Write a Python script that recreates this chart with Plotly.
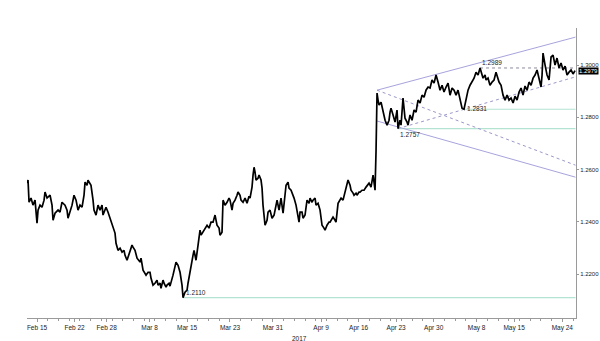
import pandas as pd
import plotly.graph_objects as go

START = pd.Timestamp("2017-02-15")

# time as days after 15 Feb 2017, price GBP/USD
day_offset = [-1.87, -1.68, -1.49, -1.12, -0.75, -0.37, 0.0, 0.19, 0.56, 0.93, 1.31, 1.49, 1.87, 2.43, 2.80, 2.99,
              3.36, 3.92, 4.29, 4.66, 5.22, 5.60, 5.78, 6.16, 6.53, 6.90, 7.28, 7.65, 8.02, 8.40, 8.77, 8.96,
              9.33, 9.51, 9.89, 10.07, 10.45, 10.63, 11.01, 11.38, 11.75, 12.13, 12.31, 12.87, 13.25, 13.62,
              13.99, 14.37, 14.55, 14.74, 15.11, 15.49, 15.86, 16.23, 16.42, 16.79, 17.35, 17.72, 17.91, 18.28,
              18.66, 19.22, 19.40, 19.78, 20.34, 20.71, 21.08, 21.27, 21.64, 22.01, 22.39, 22.57, 22.95, 23.13,
              23.51, 23.69, 24.07, 24.25, 24.63, 24.81, 25.37, 25.75, 25.93, 26.31, 26.68, 27.05, 27.24, 27.61,
              27.99, 28.17, 28.54, 28.92, 29.10, 29.29, 29.66, 30.04, 30.41, 30.60, 30.97, 31.34, 31.72, 32.09,
              32.46, 32.84, 33.21, 33.58, 33.96, 34.14, 34.51, 34.70, 35.07, 35.45, 35.82, 36.01, 36.38, 36.57,
              36.94, 37.31, 37.50, 37.87, 38.06, 38.43, 38.81, 39.18, 39.55, 39.74, 40.11, 40.30, 40.49, 40.67,
              40.86, 41.23, 41.42, 41.79, 41.98, 42.16, 42.35, 42.54, 42.91, 43.10, 43.47, 43.84, 44.22, 44.59,
              44.78, 45.15, 45.52, 45.90, 46.27, 46.46, 46.83, 47.01, 47.39, 47.76, 47.95, 48.32, 48.51, 48.88,
              49.07, 49.44, 49.63, 50.00, 50.37, 50.75, 50.93, 51.31, 51.49, 51.87, 52.05, 52.43, 52.80, 53.17,
              53.54, 53.73, 54.10, 54.48, 54.66, 55.04, 55.22, 55.60, 55.78, 56.16, 56.53, 56.72, 57.09, 57.28,
              57.65, 57.84, 58.02, 58.40, 58.58, 58.96, 59.14, 59.51, 59.70, 60.07, 60.26, 60.63, 61.01, 61.38,
              61.57, 61.94, 62.31, 62.69, 62.87, 63.06, 63.25, 63.43, 63.62, 63.81, 64.18, 64.55, 64.93, 65.30,
              65.67, 65.86, 66.04, 66.42, 66.79, 67.16, 67.35, 67.72, 67.91, 68.28, 68.47, 68.65, 69.03, 69.21,
              69.59, 69.96, 70.34, 70.71, 71.08, 71.46, 71.83, 72.20, 72.57, 72.95, 73.32, 73.69, 74.07, 74.44,
              74.81, 75.19, 75.56, 75.93, 76.31, 76.68, 77.05, 77.43, 77.80, 78.17, 78.54, 78.92, 79.29, 79.66,
              80.04, 80.41, 80.78, 81.16, 81.53, 81.90, 82.28, 82.65, 82.84, 83.21, 83.58, 83.77, 84.14, 84.51,
              84.89, 85.26, 85.63, 86.01, 86.19, 86.57, 86.94, 87.31, 87.69, 88.06, 88.43, 88.81, 89.18, 89.55,
              89.93, 90.30, 90.67, 91.04, 91.42, 91.79, 92.16, 92.54, 92.91, 93.28, 93.66, 94.03, 94.22, 94.40,
              94.78, 95.15, 95.52, 95.71, 95.90, 96.27, 96.64, 97.01, 97.39, 97.76, 98.13, 98.51, 98.88, 99.25,
              99.63, 100.00, 100.37]

price = [1.2548, 1.2560, 1.2475, 1.2491, 1.2464, 1.2483, 1.2395, 1.2445, 1.2464, 1.2456, 1.2483, 1.2514, 1.2491,
         1.2502, 1.2464, 1.2406, 1.2433, 1.2445, 1.2437, 1.2475, 1.2464, 1.2445, 1.2414, 1.2437, 1.2464, 1.2502,
         1.2483, 1.2445, 1.2464, 1.2456, 1.2502, 1.2552, 1.2540, 1.2560, 1.2548, 1.2540, 1.2483, 1.2445, 1.2426,
         1.2464, 1.2445, 1.2464, 1.2426, 1.2456, 1.2437, 1.2414, 1.2395, 1.2368, 1.2357, 1.2318, 1.2291, 1.2299,
         1.2284, 1.2291, 1.2272, 1.2253, 1.2291, 1.2311, 1.2303, 1.2291, 1.2261, 1.2246, 1.2261, 1.2215, 1.2196,
         1.2207, 1.2207, 1.2184, 1.2158, 1.2165, 1.2177, 1.2158, 1.2165, 1.2146, 1.2177, 1.2165, 1.2150, 1.2158,
         1.2165, 1.2154, 1.2196, 1.2234, 1.2246, 1.2234, 1.2207, 1.2158, 1.2110, 1.2131, 1.2139, 1.2165, 1.2215,
         1.2261, 1.2272, 1.2291, 1.2253, 1.2311, 1.2368, 1.2349, 1.2360, 1.2376, 1.2387, 1.2376, 1.2399, 1.2399,
         1.2426, 1.2387, 1.2376, 1.2349, 1.2360, 1.2483, 1.2464, 1.2475, 1.2491, 1.2483, 1.2445, 1.2471, 1.2483,
         1.2502, 1.2514, 1.2502, 1.2483, 1.2475, 1.2491, 1.2471, 1.2498, 1.2491, 1.2533, 1.2579, 1.2609, 1.2590,
         1.2560, 1.2567, 1.2579, 1.2560, 1.2529, 1.2464, 1.2414, 1.2387, 1.2406, 1.2437, 1.2445, 1.2414, 1.2426,
         1.2464, 1.2483, 1.2445, 1.2491, 1.2433, 1.2502, 1.2540, 1.2552, 1.2529, 1.2521, 1.2502, 1.2491, 1.2464,
         1.2445, 1.2399, 1.2437, 1.2437, 1.2414, 1.2426, 1.2483, 1.2471, 1.2491, 1.2475, 1.2483, 1.2491, 1.2464,
         1.2471, 1.2445, 1.2387, 1.2376, 1.2368, 1.2387, 1.2399, 1.2399, 1.2414, 1.2418, 1.2406, 1.2399, 1.2471,
         1.2483, 1.2491, 1.2483, 1.2498, 1.2521, 1.2540, 1.2560, 1.2540, 1.2521, 1.2510, 1.2502, 1.2510, 1.2502,
         1.2514, 1.2514, 1.2521, 1.2521, 1.2533, 1.2540, 1.2548, 1.2533, 1.2579, 1.2552, 1.2521, 1.2674, 1.2893,
         1.2866, 1.2847, 1.2858, 1.2820, 1.2789, 1.2770, 1.2789, 1.2820, 1.2835, 1.2809, 1.2782, 1.2828, 1.2757,
         1.2789, 1.2770, 1.2874, 1.2828, 1.2797, 1.2782, 1.2770, 1.2809, 1.2789, 1.2828, 1.2820, 1.2866, 1.2855,
         1.2885, 1.2877, 1.2904, 1.2916, 1.2912, 1.2943, 1.2931, 1.2962, 1.2935, 1.2904, 1.2923, 1.2897, 1.2916,
         1.2931, 1.2885, 1.2912, 1.2904, 1.2885, 1.2904, 1.2866, 1.2835, 1.2831, 1.2866, 1.2904, 1.2923, 1.2935,
         1.2950, 1.2973, 1.2962, 1.2989, 1.2973, 1.2950, 1.2962, 1.2943, 1.2950, 1.2923, 1.2935, 1.2943, 1.2973,
         1.2950, 1.2935, 1.2923, 1.2885, 1.2866, 1.2885, 1.2866, 1.2874, 1.2855, 1.2881, 1.2866, 1.2897, 1.2912,
         1.2885, 1.2920, 1.2904, 1.2935, 1.2923, 1.2950, 1.2962, 1.2981, 1.2943, 1.2916, 1.2962, 1.3046, 1.3000,
         1.2962, 1.2943, 1.2981, 1.3031, 1.3038, 1.3000, 1.3027, 1.2989, 1.3008, 1.2981, 1.2996, 1.2962, 1.2973,
         1.2981, 1.2966, 1.2979]

# x-axis ticks
tick_days = [0, 7, 13, 21, 28, 36, 44, 53, 60, 67, 74, 82, 89, 98]
tick_text = ["Feb 15", "Feb 22", "Feb 28", "Mar 8", "Mar 15", "Mar 23", "Mar 31",
             "Apr 9", "Apr 16", "Apr 23", "Apr 30", "May 8", "May 15", "May 24"]
y_ticks = [1.22, 1.24, 1.26, 1.28, 1.30]

# support / resistance levels: (start day, value)
level_days = [27.24, 67.35, 79.66]
level_values = [1.2110, 1.2757, 1.2831]
resist_day, resist_value = 82.65, 1.2989

# channel lines (start/end day, start/end value)
channel_upper = ([63.43, 100.45], [1.2904, 1.3107])
channel_lower = ([63.43, 100.45], [1.2786, 1.2571])
dash_down = ([63.43, 100.45], [1.2904, 1.2617])
dash_up = ([67.35, 100.45], [1.2757, 1.2955])

# labelled extremes
label_days = [27.24, 67.35, 79.66, 82.65]
label_values = [1.2110, 1.2757, 1.2831, 1.2989]
last_value = 1.2979

END_DAY = 100.45


def to_date(d):
    return START + pd.to_timedelta(d, unit="D")


def dates(lst):
    return [to_date(d) for d in lst]


fig = go.Figure()

TEAL = "#b5e3d2"
PURPLE = "#a7a3dc"
DASH = "#9a98c8"

for d, v in zip(level_days, level_values):
    fig.add_trace(go.Scatter(x=dates([d, END_DAY]), y=[v, v], mode="lines",
                             line=dict(color=TEAL, width=1.2), hoverinfo="skip"))
fig.add_trace(go.Scatter(x=dates([resist_day, END_DAY]), y=[resist_value, resist_value], mode="lines",
                         line=dict(color="#8a8a9a", width=1, dash="dot"), hoverinfo="skip"))
for ln in (channel_upper, channel_lower):
    fig.add_trace(go.Scatter(x=dates(ln[0]), y=ln[1], mode="lines",
                             line=dict(color=PURPLE, width=1), hoverinfo="skip"))
for ln in (dash_down, dash_up):
    fig.add_trace(go.Scatter(x=dates(ln[0]), y=ln[1], mode="lines",
                             line=dict(color=DASH, width=1, dash="dot"), hoverinfo="skip"))

fig.add_trace(go.Scatter(x=dates(day_offset), y=price, mode="lines",
                         line=dict(color="black", width=1.7)))

FAM = "Liberation Sans Narrow, Liberation Sans, Arial"
FONT = dict(family=FAM, size=6.5, color="#222222")
YFONT = dict(family=FAM, size=6, color="#222222")

anchors = [("left", "bottom", 1, 0), ("left", "top", 0, 0), ("left", "middle", 1, 1), ("left", "bottom", 0, 0)]
for d, v, (xa, ya, xs, ys) in zip(label_days, label_values, anchors):
    fig.add_annotation(x=to_date(d), y=v, text=f"{v:.4f}", showarrow=False,
                       xanchor=xa, yanchor=ya, xshift=xs, yshift=ys, font=FONT)

fig.add_annotation(xref="paper", x=1.0, y=last_value, text=f"{last_value:.4f}", showarrow=False,
                   xanchor="left", yanchor="middle", xshift=2,
                   bgcolor="black", font=dict(family=FAM, size=6, color="white"),
                   borderpad=0)
fig.add_annotation(xref="paper", yref="paper", x=0.497, y=-0.05, text="2017", showarrow=False,
                   xanchor="center", yanchor="top", font=FONT)

fig.update_layout(
    width=600, height=341,
    margin=dict(l=27, r=24, t=28, b=23),
    paper_bgcolor="white", plot_bgcolor="white",
    showlegend=False,
    xaxis=dict(
        type="date", automargin=False,
        range=[to_date(-1.87), to_date(END_DAY + 0.1)],
        tickvals=dates(tick_days), ticktext=tick_text,
        showgrid=False, zeroline=False,
        showline=True, linecolor="#9a9a9a", linewidth=1,
        ticks="outside", ticklen=3, tickcolor="#9a9a9a",
        minor=dict(ticks="outside", ticklen=2, tickcolor="#9a9a9a", dtick=2 * 86400000,
                   tick0=START, showgrid=False),
        tickfont=FONT,
    ),
    yaxis=dict(
        side="right", automargin=False,
        range=[1.2032, 1.3142],
        tickvals=y_ticks, ticktext=[f"{t:.4f}" for t in y_ticks],
        showgrid=False, zeroline=False,
        showline=True, linecolor="#9a9a9a", linewidth=1,
        ticks="outside", ticklen=2, tickcolor="#9a9a9a",
        tickfont=YFONT,
    ),
)

fig.write_html("out.html")
